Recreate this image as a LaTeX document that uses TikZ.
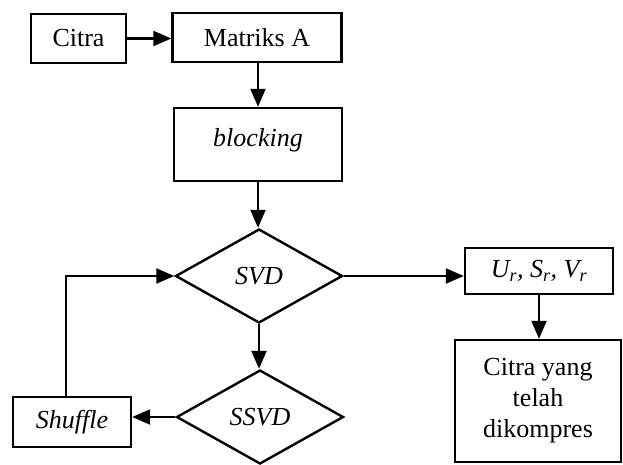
\documentclass[tikz,border=0pt]{standalone}
\usepackage{fontspec}
\setmainfont{Liberation Serif}
\usetikzlibrary{arrows.meta,shapes.geometric}
\begin{document}
\begin{tikzpicture}[x=1pt,y=-1pt,
  box/.style={draw,line width=2.4pt,inner sep=0pt,font=\fontsize{26}{31}\selectfont,align=center},
  ibox/.style={box,font=\fontsize{26}{31}\selectfont\itshape},
  dia/.style={draw,diamond,line width=2.4pt,inner sep=0pt,font=\fontsize{26}{31}\selectfont\itshape,minimum width=167pt,minimum height=94pt},
  arr/.style={line width=2.2pt,-{Triangle[length=18pt,width=15pt]}}]
\useasboundingbox (0,0) rectangle (623,464);
\node[box,minimum width=95pt,minimum height=49pt] (citra) at (78.5,38.5) {Citra};
\node[box,minimum width=169pt,minimum height=49pt] (matriks) at (257,37.5) {Matriks A};
\node[ibox,minimum width=168pt,minimum height=73pt,text depth=14pt] (blocking) at (258,144.5) {blocking};
\node[dia] (svd) at (259,276) {SVD};
\node[dia] (ssvd) at (260,417) {SSVD};
\node[ibox,minimum width=118pt,minimum height=50pt] (shuffle) at (72,422) {Shuffle};
\node[ibox,minimum width=148pt,minimum height=46pt] (usv) at (539,271) {U\textsubscript{r}, S\textsubscript{r}, V\textsubscript{r}};
\node[box,minimum width=166pt,minimum height=122pt] (hasil) at (538,401) {Citra yang\\telah\\dikompres};
\draw[arr] (citra.east) -- (citra.east -| matriks.west);
\draw[arr] (matriks.south -| blocking.north) -- (blocking.north);
\draw[arr] (blocking.south) -- (blocking.south |- svd.north);
\draw[arr] (svd.south) -- (svd.south |- ssvd.north);
\draw[arr] (svd.east) -- (svd.east -| usv.west);
\draw[arr] (usv.south) -- (usv.south |- hasil.north);
\draw[arr] (ssvd.west) -- (ssvd.west -| shuffle.east);
\draw[arr] ([xshift=-6pt]shuffle.north) |- (svd.west);
\end{tikzpicture}
\end{document}
